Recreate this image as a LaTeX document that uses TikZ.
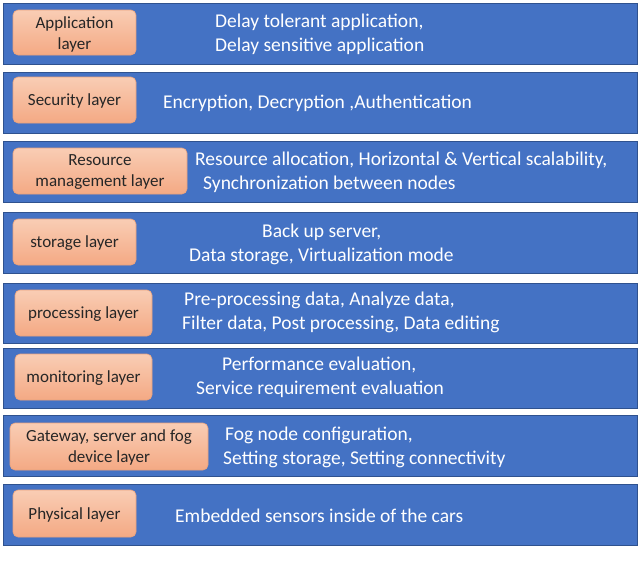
\documentclass[tikz,border=0pt]{standalone}
\usepackage{fontspec}
\setmainfont{Carlito}
\definecolor{bandblue}{HTML}{4472C4}
\definecolor{bandedge}{HTML}{2F528F}
\definecolor{boxtop}{HTML}{F9CDB4}
\definecolor{boxbot}{HTML}{F4A984}
\definecolor{boxedge}{HTML}{E8A27E}
\definecolor{labeltext}{HTML}{262626}
\begin{document}
\begin{tikzpicture}[x=1pt,y=-1pt,
  band/.style={draw=bandedge,fill=bandblue,line width=1pt},
  layerbox/.style={draw=boxedge,top color=boxtop,bottom color=boxbot,rounded corners=5pt,line width=0.6pt},
  lbl/.style={text=labeltext,font=\fontsize{17}{21}\selectfont,align=center,inner sep=0pt},
  desc/.style={text=white,font=\fontsize{19.5}{24}\selectfont,inner sep=0pt,anchor=west}]
\useasboundingbox (0,0) rectangle (640,581);
% bands
\path[band] (3,3) rectangle (637,64);
\path[band] (3,72) rectangle (637,133);
\path[band] (3,141) rectangle (637,202);
\path[band] (3,212) rectangle (637,273);
\path[band] (3,283) rectangle (637,343);
\path[band] (3,348) rectangle (637,408);
\path[band] (3,415) rectangle (637,476);
\path[band] (3,484) rectangle (637,545);
% layer boxes
\path[layerbox] (13,10) rectangle (136,55);
\node[lbl] (l1) at (74.5,34) {Application\\layer};
\path[layerbox] (13,77) rectangle (136,123);
\node[lbl] (l2) at (74.5,101) {Security layer};
\path[layerbox] (13,148) rectangle (187,194);
\node[lbl] (l3) at (100,172) {Resource\\management layer};
\path[layerbox] (13,219) rectangle (136,265);
\node[lbl] (l4) at (74.5,243) {storage layer};
\path[layerbox] (15,290) rectangle (152,336);
\node[lbl] (l5) at (83.5,314) {processing layer};
\path[layerbox] (15,354) rectangle (152,400);
\node[lbl] (l6) at (83.5,378) {monitoring layer};
\path[layerbox] (10,423) rectangle (208,470);
\node[lbl] (l7) at (109,447.5) {Gateway, server and fog\\device layer};
\path[layerbox] (13,490) rectangle (136,537);
\node[lbl] (l8) at (74.5,514.5) {Physical layer};
% descriptions
\node[desc] (d1a) at (215,22) {Delay tolerant application,};
\node[desc] (d1b) at (215,46) {Delay sensitive application};
\node[desc] (d2) at (163,103) {Encryption, Decryption ,Authentication};
\node[desc] (d3a) at (195,160) {Resource allocation, Horizontal \& Vertical scalability,};
\node[desc] (d3b) at (203,184) {Synchronization between nodes};
\node[desc] (d4a) at (262,232) {Back up server,};
\node[desc] (d4b) at (189,256) {Data storage, Virtualization mode};
\node[desc] (d5a) at (184,300) {Pre-processing data, Analyze data,};
\node[desc] (d5b) at (182,324) {Filter data, Post processing, Data editing};
\node[desc] (d6a) at (222,365) {Performance evaluation,};
\node[desc] (d6b) at (196,389) {Service requirement evaluation};
\node[desc] (d7a) at (225,435) {Fog node configuration,};
\node[desc] (d7b) at (223,459) {Setting storage, Setting connectivity};
\node[desc] (d8) at (175,516) {Embedded sensors inside of the cars};
\end{tikzpicture}
\end{document}
